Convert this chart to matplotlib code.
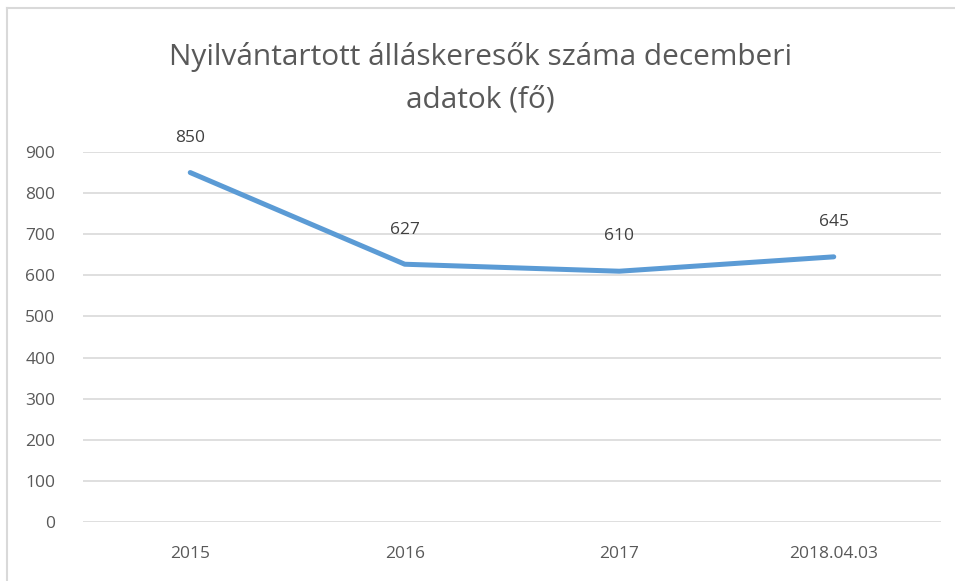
import matplotlib
matplotlib.use("Agg")
import matplotlib.pyplot as plt
from matplotlib.lines import Line2D

categories = ["2015", "2016", "2017", "2018.04.03"]
values = [850, 627, 610, 645]
yticks = [0, 100, 200, 300, 400, 500, 600, 700, 800, 900]
title = "Nyilvántartott álláskeresők száma decemberi\nadatok (fő)"

plt.rcParams['font.family'] = ['Open Sans', 'DejaVu Sans']

fig = plt.figure(figsize=(9.55, 5.81), dpi=100)
ax = fig.add_axes([83/955, 1-522/581, (941-83)/955, (522-152)/581])

x = list(range(len(categories)))
ax.plot(x, values, color='#5B9BD5', lw=3.6, solid_capstyle='round', zorder=3)
for xi, v in zip(x, values):
    ax.annotate(str(v), (xi, v), xytext=(0, 25), textcoords='offset points',
                ha='center', va='center', fontsize=12.5, color='#404040')

ax.set_xlim(-0.5, len(categories) - 0.5)
ax.set_ylim(0, 900)
ax.set_yticks(yticks)
ax.set_xticks(x)
ax.set_xticklabels(categories)
ax.grid(axis='y', color='#D9D9D9', lw=1.2)
ax.set_axisbelow(True)
for s in ax.spines.values():
    s.set_visible(False)
ax.tick_params(length=0, labelsize=12.5, colors='#595959', pad=20)
ax.tick_params(axis='x', pad=17)

fig.text(0.503, 1-78/581, title, ha='center', va='center', fontsize=21.5,
         color='#595959', linespacing=1.6)

# chart border (top and left visible)
fig.add_artist(Line2D([6.5/955, 6.5/955], [0, 1-7.5/581], transform=fig.transFigure,
                      color='#D9D9D9', lw=1.5))
fig.add_artist(Line2D([6.5/955, 1], [1-7.5/581, 1-7.5/581], transform=fig.transFigure,
                      color='#D9D9D9', lw=1.5))

fig.savefig('out.png', dpi=100, facecolor='white')
